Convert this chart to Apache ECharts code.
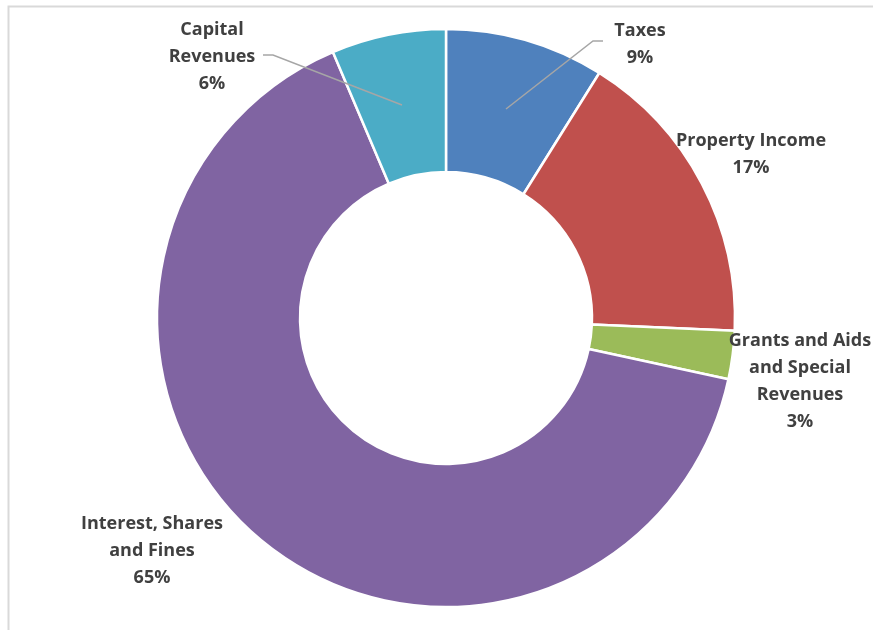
<!DOCTYPE html>
<html>
<head>
<meta charset="utf-8">
<script src="https://cdn.jsdelivr.net/npm/echarts@6/dist/echarts.min.js"></script>
<style>
	html, body { margin: 0; padding: 0; background: #fff; }
	#chart { width: 873px; height: 630px; }
</style>
</head>
<body>
<div id="chart"></div>
<script>
// 数据
var names = ['Taxes', 'Property Income', 'Grants and Aids\nand Special\nRevenues', 'Interest, Shares\nand Fines', 'Capital\nRevenues']
var values = [8.9, 16.8, 2.7, 65.2, 6.4]
var colors = ['#4f81bd', '#c0504d', '#9bbb59', '#8064a2', '#4bacc6']

// 标签位置 (x, y 为文字块中心)
var labelPos = [[640, 44], [751, 154], [800, 381], [152, 551], [212, 57]]
// 引导线
var guideLines = [
	[[506, 109], [593, 41], [603, 41]],
	[[402, 105], [273, 55], [263, 55]]
]

var chart = echarts.init(document.getElementById('chart'));

var pieData = []
for (var i = 0; i < names.length; i++) {
	pieData.push({
		name: names[i],
		value: values[i],
		itemStyle: { color: colors[i] }
	})
}

var graphics = [{
	type: 'polyline',
	shape: { points: [[8.5, 640], [8.5, 6.5], [880, 6.5]] },
	style: { stroke: '#d9d9d9', lineWidth: 2, fill: null },
	silent: true
}]
guideLines.forEach(function (pts) {
	graphics.push({
		type: 'polyline',
		z: 100,
		shape: { points: pts },
		style: { stroke: '#a6a6a6', lineWidth: 1.5, fill: null },
		silent: true
	})
})

var option = {
	animation: false,
	graphic: graphics,
	series: [{
		type: 'pie',
		center: [446, 318],
		radius: [146, 289],
		startAngle: 90,
		clockwise: true,
		avoidLabelOverlap: false,
		itemStyle: {
			borderColor: '#fff',
			borderWidth: 2.5
		},
		label: {
			show: true,
			position: 'outside',
			color: '#404040',
			fontFamily: 'Open Sans',
			fontWeight: 'bold',
			fontSize: 18,
			lineHeight: 27,
			align: 'center',
			formatter: function (p) {
				return p.name + '\n' + Math.round(p.percent) + '%'
			}
		},
		labelLine: { show: false },
		labelLayout: function (params) {
			var pos = labelPos[params.dataIndex]
			return {
				x: pos[0],
				y: pos[1],
				align: 'center',
				verticalAlign: 'middle'
			}
		},
		data: pieData
	}]
};
chart.setOption(option);
</script>
</body>
</html>
